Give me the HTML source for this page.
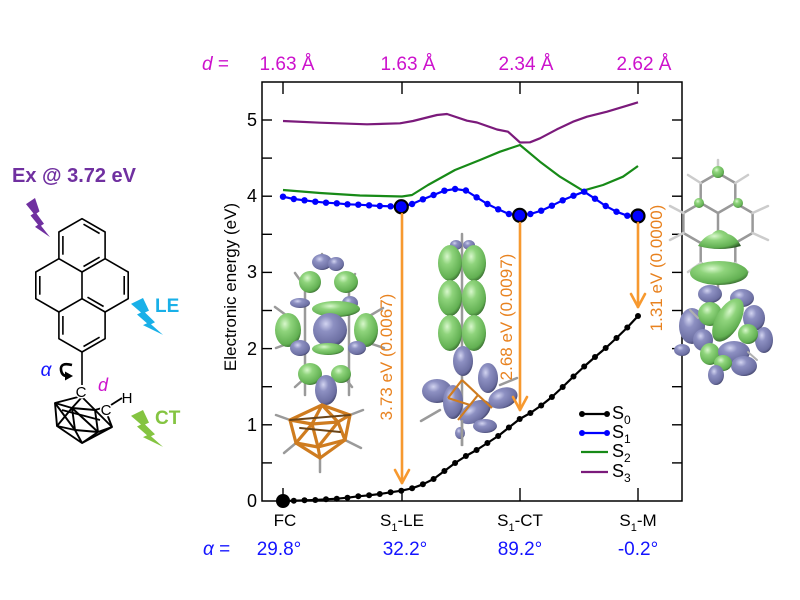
<!DOCTYPE html>
<html><head><meta charset="utf-8"><style>html,body{margin:0;padding:0;background:#fff}svg{display:block}</style></head>
<body>
<svg width="800" height="600" viewBox="0 0 800 600" xmlns="http://www.w3.org/2000/svg" font-family="'Liberation Sans', Arial, sans-serif">
<defs>
<radialGradient id="gG" cx="0.38" cy="0.32" r="0.75"><stop offset="0" stop-color="#d8f7cc"/><stop offset="0.3" stop-color="#8fd47c"/><stop offset="0.8" stop-color="#62b052"/><stop offset="1" stop-color="#2f5c28"/></radialGradient>
<radialGradient id="gP" cx="0.38" cy="0.32" r="0.75"><stop offset="0" stop-color="#d2d4f0"/><stop offset="0.3" stop-color="#8d90c2"/><stop offset="0.8" stop-color="#6c6fa2"/><stop offset="1" stop-color="#383a5c"/></radialGradient>
</defs>
<rect width="800" height="600" fill="#fff"/>

<!-- ===== Left structure ===== -->
<text x="12" y="182" font-size="20" font-weight="bold" fill="#7030a0">Ex @ 3.72 eV</text>
<polygon points="0,6 12,0 18,13 14,15 24,25 20,27 32,38 12,28 16,26 6,17 10,15" fill="#7030a0" transform="translate(26,198) scale(0.75,1.03)"/>
<polygon points="0,6 12,0 18,13 14,15 24,25 20,27 32,38 12,28 16,26 6,17 10,15" fill="#19b0e8" transform="translate(131,298) scale(1,0.97)"/>
<polygon points="0,6 12,0 18,13 14,15 24,25 20,27 32,38 12,28 16,26 6,17 10,15" fill="#84c441" transform="translate(131,410) scale(1,0.97)"/>
<text x="155" y="312" font-size="19" font-weight="bold" fill="#19b0e8">LE</text>
<text x="155" y="424" font-size="19" font-weight="bold" fill="#84c441">CT</text>

<g stroke="#000" stroke-width="1.6" fill="none" stroke-linejoin="round">
<polygon points="82,218.7 105.1,232 105.1,258.7 82,272 58.9,258.7 58.9,232"/>
<polyline points="58.9,258.7 35.8,272 35.8,298.7 58.9,312 82,298.7 82,272"/>
<polyline points="105.1,258.7 128.2,272 128.2,298.7 105.1,312 82,298.7"/>
<polyline points="105.1,312 105.1,338.7 82,352 58.9,338.7 58.9,312"/>
<line x1="83.5" y1="224.2" x2="99.6" y2="233.5"/>
<line x1="62.9" y1="236" x2="62.9" y2="254.7"/>
<line x1="99.6" y1="257.2" x2="83.5" y2="266.5"/>
<line x1="39.8" y1="276" x2="39.8" y2="294.7"/>
<line x1="124.2" y1="276" x2="124.2" y2="294.7"/>
<line x1="87.5" y1="297.2" x2="103.6" y2="306.5"/>
<line x1="62.9" y1="316" x2="62.9" y2="334.7"/>
<line x1="99.6" y1="337.2" x2="83.5" y2="346.5"/>
<line x1="82" y1="352" x2="82" y2="385"/>
</g>
<!-- carborane cage -->
<g stroke="#000" stroke-width="1.9" fill="none" stroke-linejoin="round">
<polyline points="78,397 55,403 57,426 82,443 112,427 107,414"/>
<line x1="82" y1="397" x2="72" y2="408"/><line x1="82" y1="397" x2="95" y2="410"/>
<line x1="55" y1="403" x2="72" y2="408"/><line x1="72" y1="408" x2="95" y2="410"/><line x1="95" y1="410" x2="102" y2="408"/>
<line x1="55" y1="403" x2="75" y2="430"/><line x1="72" y1="408" x2="75" y2="430"/><line x1="72" y1="408" x2="98" y2="432"/>
<line x1="95" y1="410" x2="98" y2="432"/><line x1="95" y1="410" x2="112" y2="427"/>
<line x1="57" y1="426" x2="75" y2="430"/><line x1="75" y1="430" x2="98" y2="432"/><line x1="98" y1="432" x2="112" y2="427"/>
<line x1="75" y1="430" x2="82" y2="443"/><line x1="98" y1="432" x2="82" y2="443"/>
<line x1="57" y1="426" x2="72" y2="408"/><line x1="62" y1="410" x2="100" y2="420"/>
<line x1="111" y1="405" x2="122" y2="398"/>
</g>
<text x="81" y="397" font-size="15" text-anchor="middle" fill="#000" stroke="#fff" stroke-width="3" paint-order="stroke">C</text>
<text x="106" y="415" font-size="15" text-anchor="middle" fill="#000" stroke="#fff" stroke-width="3" paint-order="stroke">C</text>
<text x="127" y="403" font-size="15" text-anchor="middle" fill="#000">H</text>
<text x="103" y="391" font-size="18" font-style="italic" text-anchor="middle" fill="#cc11cc">d</text>
<text x="46" y="376" font-size="19" font-style="italic" text-anchor="middle" fill="#1414ff">α</text>
<path d="M72,365 Q60,362 61,370 Q62,376 67,376" stroke="#000" stroke-width="2.6" fill="none"/>
<polygon points="65,371.5 73,376 65,380.5" fill="#000"/>

<!-- ===== Top & bottom labels ===== -->
<g font-size="19" fill="#cc11cc">
<text x="202" y="70"><tspan font-style="italic">d</tspan> =</text>
<text x="287" y="70" text-anchor="middle">1.63 Å</text>
<text x="408" y="70" text-anchor="middle">1.63 Å</text>
<text x="526" y="70" text-anchor="middle">2.34 Å</text>
<text x="644" y="70" text-anchor="middle">2.62 Å</text>
</g>
<g font-size="19" fill="#1414ff">
<text x="203" y="555"><tspan font-style="italic">α</tspan> =</text>
<text x="279" y="555" text-anchor="middle">29.8°</text>
<text x="405" y="555" text-anchor="middle">32.2°</text>
<text x="520" y="555" text-anchor="middle">89.2°</text>
<text x="638" y="555" text-anchor="middle">-0.2°</text>
</g>
<g font-size="17" fill="#000">
<text x="285" y="526" text-anchor="middle">FC</text>
<text x="402" y="526" text-anchor="middle">S<tspan font-size="11" dy="5">1</tspan><tspan dy="-5">-LE</tspan></text>
<text x="520" y="526" text-anchor="middle">S<tspan font-size="11" dy="5">1</tspan><tspan dy="-5">-CT</tspan></text>
<text x="638" y="526" text-anchor="middle">S<tspan font-size="11" dy="5">1</tspan><tspan dy="-5">-M</tspan></text>
</g>

<!-- y axis -->
<text transform="translate(236,287) rotate(-90)" font-size="17" text-anchor="middle" fill="#000">Electronic energy (eV)</text>
<g font-size="18" fill="#000" text-anchor="end">
<text x="257" y="507">0</text><text x="257" y="431">1</text><text x="257" y="355">2</text>
<text x="257" y="278">3</text><text x="257" y="202">4</text><text x="257" y="126">5</text>
</g>

<!-- ===== Molecule renders (left & middle) ===== -->
<g stroke="#9a9a9a" stroke-width="2.5" stroke-linecap="round">
<line x1="322" y1="254" x2="322" y2="268"/>
<line x1="305" y1="285" x2="305" y2="395"/><line x1="349" y1="285" x2="349" y2="395"/>
<line x1="295" y1="273" x2="305" y2="287"/><line x1="355" y1="274" x2="349" y2="287"/>
<line x1="275" y1="307" x2="290" y2="318"/><line x1="383" y1="308" x2="366" y2="318"/>
<line x1="276" y1="348" x2="292" y2="342"/><line x1="384" y1="348" x2="366" y2="342"/>
<line x1="295" y1="387" x2="305" y2="378"/><line x1="352" y1="387" x2="345" y2="378"/>
<line x1="276" y1="415" x2="290" y2="420"/><line x1="284" y1="453" x2="296" y2="443"/>
<line x1="320" y1="458" x2="320" y2="472"/><line x1="345" y1="440" x2="361" y2="448"/>
<line x1="350" y1="415" x2="363" y2="410"/>
<line x1="462" y1="234" x2="462" y2="445"/>
<line x1="421" y1="421" x2="440" y2="410"/><line x1="500" y1="385" x2="517" y2="378"/>
</g>
<g>
<ellipse cx="322" cy="262" rx="10" ry="8" fill="url(#gP)"/><ellipse cx="336" cy="264" rx="8" ry="7" fill="url(#gP)"/>
<ellipse cx="310" cy="282" rx="11" ry="11" fill="url(#gG)"/><ellipse cx="346" cy="282" rx="12" ry="11" fill="url(#gG)"/>
<ellipse cx="300" cy="303" rx="10" ry="5" fill="url(#gP)"/>
<ellipse cx="350" cy="303" rx="8" ry="7" fill="url(#gP)"/>
<ellipse cx="336" cy="309" rx="24" ry="8" fill="url(#gG)"/>
<ellipse cx="288" cy="330" rx="13" ry="17" fill="url(#gG)"/><ellipse cx="366" cy="330" rx="12" ry="17" fill="url(#gG)"/>
<ellipse cx="330" cy="330" rx="17" ry="17" fill="url(#gP)"/>
<ellipse cx="300" cy="348" rx="10" ry="8" fill="url(#gP)"/><ellipse cx="357" cy="348" rx="9" ry="7" fill="url(#gP)"/>
<ellipse cx="328" cy="349" rx="16" ry="6" fill="url(#gG)"/>
<ellipse cx="310" cy="374" rx="12" ry="11" fill="url(#gG)"/><ellipse cx="341" cy="374" rx="10" ry="9" fill="url(#gG)"/>
<ellipse cx="326" cy="390" rx="11" ry="15" fill="url(#gP)"/>
</g>
<g stroke="#cf7c1f" stroke-width="3.2" fill="none" stroke-linecap="round" stroke-linejoin="round">
<line x1="322" y1="405" x2="290" y2="420"/><line x1="322" y1="405" x2="312" y2="424"/><line x1="322" y1="405" x2="338" y2="422"/><line x1="322" y1="405" x2="350" y2="415"/>
<line x1="290" y1="420" x2="312" y2="424"/><line x1="312" y1="424" x2="338" y2="422"/><line x1="338" y1="422" x2="350" y2="415"/>
<line x1="290" y1="420" x2="296" y2="443"/><line x1="312" y1="424" x2="296" y2="443"/><line x1="312" y1="424" x2="318" y2="447"/>
<line x1="338" y1="422" x2="318" y2="447"/><line x1="338" y1="422" x2="345" y2="440"/><line x1="350" y1="415" x2="345" y2="440"/>
<line x1="296" y1="443" x2="318" y2="447"/><line x1="318" y1="447" x2="345" y2="440"/>
<line x1="296" y1="443" x2="320" y2="458"/><line x1="318" y1="447" x2="320" y2="458"/><line x1="345" y1="440" x2="320" y2="458"/>
<line x1="290" y1="420" x2="350" y2="415" stroke="#6b4518" stroke-width="2"/>
<line x1="300" y1="428" x2="340" y2="432" stroke="#6b4518" stroke-width="2"/>
</g>
<!-- middle molecule -->
<g>
<ellipse cx="456" cy="245" rx="6" ry="5" fill="url(#gP)"/><ellipse cx="469" cy="245" rx="6" ry="5" fill="url(#gP)"/>
<ellipse cx="450" cy="263" rx="12" ry="18" fill="url(#gG)"/><ellipse cx="474" cy="263" rx="12" ry="18" fill="url(#gG)"/>
<ellipse cx="450" cy="298" rx="12" ry="18" fill="url(#gG)"/><ellipse cx="474" cy="298" rx="12" ry="18" fill="url(#gG)"/>
<ellipse cx="450" cy="333" rx="12" ry="18" fill="url(#gG)"/><ellipse cx="474" cy="333" rx="12" ry="18" fill="url(#gG)"/>
<ellipse cx="463" cy="361" rx="10" ry="15" fill="url(#gP)"/>
<ellipse cx="488" cy="378" rx="10" ry="15" fill="url(#gP)"/>
<ellipse cx="437" cy="391" rx="15" ry="12" fill="url(#gP)"/>
<ellipse cx="453" cy="402" rx="10" ry="17" fill="url(#gP)"/>
<ellipse cx="503" cy="398" rx="15" ry="10" fill="url(#gP)" transform="rotate(-20 503 398)"/>
<ellipse cx="475" cy="412" rx="17" ry="10" fill="url(#gP)" transform="rotate(-30 475 412)"/>
<ellipse cx="485" cy="426" rx="12" ry="7" fill="url(#gP)"/>
<ellipse cx="460" cy="433" rx="5" ry="6" fill="url(#gP)"/>
</g>
<g stroke="#cf7c1f" stroke-width="2.2" fill="none">
<line x1="462" y1="380" x2="448" y2="398"/><line x1="462" y1="380" x2="478" y2="395"/><line x1="448" y1="398" x2="470" y2="405"/>
<line x1="470" y1="405" x2="478" y2="395"/><line x1="470" y1="405" x2="458" y2="420"/><line x1="478" y1="395" x2="492" y2="408"/>
</g>
<line x1="462" y1="420" x2="462" y2="446" stroke="#9a9a9a" stroke-width="2.5"/>

<!-- ===== Frame & ticks ===== -->
<rect x="262" y="82" width="420" height="419" fill="none" stroke="#000" stroke-width="1.5"/>
<g stroke="#000" stroke-width="1.4">
<line x1="262" y1="462.9" x2="272" y2="462.9"/><line x1="262" y1="424.8" x2="272" y2="424.8"/><line x1="262" y1="386.7" x2="272" y2="386.7"/>
<line x1="262" y1="348.6" x2="272" y2="348.6"/><line x1="262" y1="310.5" x2="272" y2="310.5"/><line x1="262" y1="272.4" x2="272" y2="272.4"/>
<line x1="262" y1="234.3" x2="272" y2="234.3"/><line x1="262" y1="196.2" x2="272" y2="196.2"/><line x1="262" y1="158.1" x2="272" y2="158.1"/>
<line x1="262" y1="120" x2="272" y2="120"/>
<line x1="672" y1="462.9" x2="682" y2="462.9"/><line x1="672" y1="424.8" x2="682" y2="424.8"/><line x1="672" y1="386.7" x2="682" y2="386.7"/>
<line x1="672" y1="348.6" x2="682" y2="348.6"/><line x1="672" y1="310.5" x2="682" y2="310.5"/><line x1="672" y1="272.4" x2="682" y2="272.4"/>
<line x1="672" y1="234.3" x2="682" y2="234.3"/><line x1="672" y1="196.2" x2="682" y2="196.2"/><line x1="672" y1="158.1" x2="682" y2="158.1"/>
<line x1="672" y1="120" x2="682" y2="120"/>
<line x1="283" y1="82" x2="283" y2="94"/><line x1="402" y1="82" x2="402" y2="94"/><line x1="520" y1="82" x2="520" y2="94"/><line x1="638" y1="82" x2="638" y2="94"/>
<line x1="283" y1="501" x2="283" y2="488"/><line x1="402" y1="501" x2="402" y2="488"/><line x1="520" y1="501" x2="520" y2="488"/><line x1="638" y1="501" x2="638" y2="488"/>
</g>

<!-- ===== Curves ===== -->
<polyline fill="none" stroke="#7b1a7b" stroke-width="2.2" stroke-linejoin="round" points="283,121 320,122.7 367,124.3 400,123.3 413,121 437,115 447,114 467,120.7 477,122.5 497,129.5 508,131.7 520,142.5 530,142.3 540,138.3 557,129.3 573,121.7 587,116.7 607,111.7 627,105.7 638,102.3"/>
<polyline fill="none" stroke="#178a17" stroke-width="2.2" stroke-linejoin="round" points="283,190 320,193 360,195.5 402,196.5 412,195 428,185 455,170 480,160 500,151.7 520,145 540,161.7 560,176.7 583,190.7 603,185 623,176.7 638,166"/>
<polyline fill="none" stroke="#0000ff" stroke-width="2.2" stroke-linejoin="round" points="283,196.7 293.8,199 304.5,200.3 315.3,201.7 326,202.7 336.8,203.3 347.5,204.3 358.3,204.7 369.1,205.3 379.8,206 390.6,206.3 401.3,206.7 412.1,204 422.9,199.3 433.6,195 444.4,190.7 455.1,189 465.9,190.5 476.6,197.3 487.4,204 498.2,209.3 508.9,214 519.7,215.3 530.4,214 541.2,210.7 551.9,205.7 562.7,200.3 573.5,195.7 584.2,191.7 595,198.7 605.7,206 616.5,211.7 627.3,215.7 638,216"/>
<g fill="#0000ff">
<circle cx="283" cy="196.7" r="3.2"/><circle cx="293.8" cy="199" r="3.2"/><circle cx="304.5" cy="200.3" r="3.2"/><circle cx="315.3" cy="201.7" r="3.2"/><circle cx="326" cy="202.7" r="3.2"/><circle cx="336.8" cy="203.3" r="3.2"/><circle cx="347.5" cy="204.3" r="3.2"/><circle cx="358.3" cy="204.7" r="3.2"/><circle cx="369.1" cy="205.3" r="3.2"/><circle cx="379.8" cy="206" r="3.2"/><circle cx="390.6" cy="206.3" r="3.2"/>
<circle cx="412.1" cy="204" r="3.2"/><circle cx="422.9" cy="199.3" r="3.2"/><circle cx="433.6" cy="195" r="3.2"/><circle cx="444.4" cy="190.7" r="3.2"/><circle cx="455.1" cy="189" r="3.2"/><circle cx="465.9" cy="190.5" r="3.2"/><circle cx="476.6" cy="197.3" r="3.2"/><circle cx="487.4" cy="204" r="3.2"/><circle cx="498.2" cy="209.3" r="3.2"/><circle cx="508.9" cy="214" r="3.2"/>
<circle cx="530.4" cy="214" r="3.2"/><circle cx="541.2" cy="210.7" r="3.2"/><circle cx="551.9" cy="205.7" r="3.2"/><circle cx="562.7" cy="200.3" r="3.2"/><circle cx="573.5" cy="195.7" r="3.2"/><circle cx="584.2" cy="191.7" r="3.2"/><circle cx="595" cy="198.7" r="3.2"/><circle cx="605.7" cy="206" r="3.2"/><circle cx="616.5" cy="211.7" r="3.2"/><circle cx="627.3" cy="215.7" r="3.2"/>
</g>
<g fill="#0000ff" stroke="#000" stroke-width="2.2">
<circle cx="401.3" cy="206.7" r="6.5"/><circle cx="519.7" cy="215.3" r="6.5"/><circle cx="638" cy="216" r="6.5"/>
</g>
<polyline fill="none" stroke="#000" stroke-width="2.2" stroke-linejoin="round" points="283,501 293.8,500.7 304.5,500.3 315.3,500 326,499.3 336.8,498.7 347.5,497.7 358.3,496.3 369.1,495.3 379.8,494 390.6,492.3 401.3,490.7 412.1,488.3 422.9,484.3 433.6,479 444.4,471 455.1,463 465.9,456 476.6,450 487.4,443 498.2,436 508.9,427.5 519.7,419 530.4,413 541.2,405.5 551.9,397 562.7,387 573.5,376.5 584.2,366.5 595,357 605.7,348 616.5,338 627.3,327.5 638,316"/>
<g fill="#000">
<circle cx="293.8" cy="500.7" r="3"/><circle cx="304.5" cy="500.3" r="3"/><circle cx="315.3" cy="500" r="3"/><circle cx="326" cy="499.3" r="3"/><circle cx="336.8" cy="498.7" r="3"/><circle cx="347.5" cy="497.7" r="3"/><circle cx="358.3" cy="496.3" r="3"/><circle cx="369.1" cy="495.3" r="3"/><circle cx="379.8" cy="494" r="3"/><circle cx="390.6" cy="492.3" r="3"/><circle cx="401.3" cy="490.7" r="3"/>
<circle cx="412.1" cy="488.3" r="3"/><circle cx="422.9" cy="484.3" r="3"/><circle cx="433.6" cy="479" r="3"/><circle cx="444.4" cy="471" r="3"/><circle cx="455.1" cy="463" r="3"/><circle cx="465.9" cy="456" r="3"/><circle cx="476.6" cy="450" r="3"/><circle cx="487.4" cy="443" r="3"/><circle cx="498.2" cy="436" r="3"/><circle cx="508.9" cy="427.5" r="3"/><circle cx="519.7" cy="419" r="3"/>
<circle cx="530.4" cy="413" r="3"/><circle cx="541.2" cy="405.5" r="3"/><circle cx="551.9" cy="397" r="3"/><circle cx="562.7" cy="387" r="3"/><circle cx="573.5" cy="376.5" r="3"/><circle cx="584.2" cy="366.5" r="3"/><circle cx="595" cy="357" r="3"/><circle cx="605.7" cy="348" r="3"/><circle cx="616.5" cy="338" r="3"/><circle cx="627.3" cy="327.5" r="3"/><circle cx="638" cy="316" r="3"/>
<circle cx="283" cy="501" r="7"/>
</g>

<!-- ===== Orange arrows ===== -->
<g stroke="#f7992f" stroke-width="2.6" fill="none" stroke-linecap="round" stroke-linejoin="round">
<line x1="402" y1="214" x2="402" y2="483"/><polyline points="395,470 402,483 409,470"/>
<line x1="520" y1="223" x2="520" y2="410"/><polyline points="513,397 520,410 527,397"/>
<line x1="638" y1="223" x2="638" y2="307"/><polyline points="631,294 638,307 645,294"/>
</g>
<g font-size="17" fill="#e8821f" text-anchor="middle">
<text transform="translate(392,357) rotate(-90)">3.73 eV (0.0067)</text>
<text transform="translate(512,317) rotate(-90)">2.68 eV (0.0097)</text>
<text transform="translate(662,268) rotate(-90)">1.31 eV (0.0000)</text>
</g>

<!-- ===== Legend ===== -->
<g stroke-width="2.2">
<line x1="581" y1="414" x2="608" y2="414" stroke="#000"/><circle cx="582" cy="414" r="3" fill="#000"/><circle cx="607" cy="414" r="3" fill="#000"/>
<line x1="581" y1="433" x2="608" y2="433" stroke="#0000ff"/><circle cx="582" cy="433" r="3" fill="#0000ff"/><circle cx="607" cy="433" r="3" fill="#0000ff"/>
<line x1="581" y1="452" x2="608" y2="452" stroke="#178a17"/>
<line x1="581" y1="472" x2="608" y2="472" stroke="#7b1a7b"/>
</g>
<g font-size="18" fill="#000">
<text x="612" y="419">S<tspan font-size="12" dy="5">0</tspan></text>
<text x="612" y="438">S<tspan font-size="12" dy="5">1</tspan></text>
<text x="612" y="457">S<tspan font-size="12" dy="5">2</tspan></text>
<text x="612" y="477">S<tspan font-size="12" dy="5">3</tspan></text>
</g>

<!-- ===== Right molecule ===== -->
<g stroke="#999" stroke-width="2.5" fill="none" stroke-linejoin="round" stroke-linecap="round">
<polygon points="718,173 735.3,183 735.3,203 718,213 700.7,203 700.7,183"/>
<polyline points="700.7,203 683.4,213 683.4,233 700.7,243 718,233 718,213"/>
<polyline points="735.3,203 752.6,213 752.6,233 735.3,243 718,233"/>
<polyline points="718,233 735.3,243 735.3,263 718,273 700.7,263 700.7,243"/>
<line x1="718" y1="173" x2="718" y2="160" stroke="#ccc"/>
<line x1="735.3" y1="183" x2="748" y2="175" stroke="#ccc"/><line x1="700.7" y1="183" x2="688" y2="175" stroke="#ccc"/>
<line x1="683.4" y1="213" x2="670" y2="206" stroke="#ccc"/><line x1="752.6" y1="213" x2="768" y2="206" stroke="#ccc"/>
<line x1="683.4" y1="233" x2="670" y2="240" stroke="#ccc"/><line x1="752.6" y1="233" x2="768" y2="240" stroke="#ccc"/>
<line x1="700.7" y1="263" x2="688" y2="272" stroke="#ccc"/><line x1="735.3" y1="263" x2="748" y2="272" stroke="#ccc"/>
<line x1="718" y1="273" x2="718" y2="292"/>
</g>
<g>
<ellipse cx="718" cy="172" rx="6" ry="6" fill="url(#gG)"/>
<ellipse cx="699" cy="203" rx="5" ry="5" fill="url(#gG)"/><ellipse cx="738" cy="203" rx="5" ry="5" fill="url(#gG)"/>
<path d="M698,246 Q704,236 712,234 Q719,226 728,234 Q736,236 741,246 Q720,252 698,246 Z" fill="url(#gG)"/>
<ellipse cx="719" cy="273" rx="29" ry="12" fill="url(#gG)"/>
<ellipse cx="710" cy="294" rx="12" ry="9" fill="url(#gP)"/>
<ellipse cx="742" cy="298" rx="12" ry="9" fill="url(#gP)"/>
<ellipse cx="692" cy="326" rx="13" ry="18" fill="url(#gP)"/>
<ellipse cx="754" cy="318" rx="11" ry="13" fill="url(#gP)"/>
<ellipse cx="764" cy="340" rx="9" ry="13" fill="url(#gP)"/>
<ellipse cx="682" cy="350" rx="8" ry="6" fill="url(#gP)"/>
<ellipse cx="710" cy="314" rx="12" ry="12" fill="url(#gG)"/>
<ellipse cx="748" cy="334" rx="10" ry="10" fill="url(#gG)"/>
<ellipse cx="703" cy="340" rx="10" ry="11" fill="url(#gP)"/>
<ellipse cx="710" cy="354" rx="10" ry="11" fill="url(#gG)"/>
<ellipse cx="734" cy="352" rx="16" ry="11" fill="url(#gP)"/>
<ellipse cx="744" cy="366" rx="13" ry="10" fill="url(#gP)"/>
<ellipse cx="723" cy="363" rx="9" ry="8" fill="url(#gG)"/>
<ellipse cx="728" cy="320" rx="12" ry="24" fill="url(#gG)" transform="rotate(30 728 320)"/>
<ellipse cx="716" cy="375" rx="8" ry="10" fill="url(#gP)"/>
</g>
<g stroke="#b0b0b0" stroke-width="2" stroke-linecap="round">
<line x1="690" y1="310" x2="698" y2="318"/><line x1="748" y1="352" x2="757" y2="360"/>
</g>
</svg>
</body></html>
